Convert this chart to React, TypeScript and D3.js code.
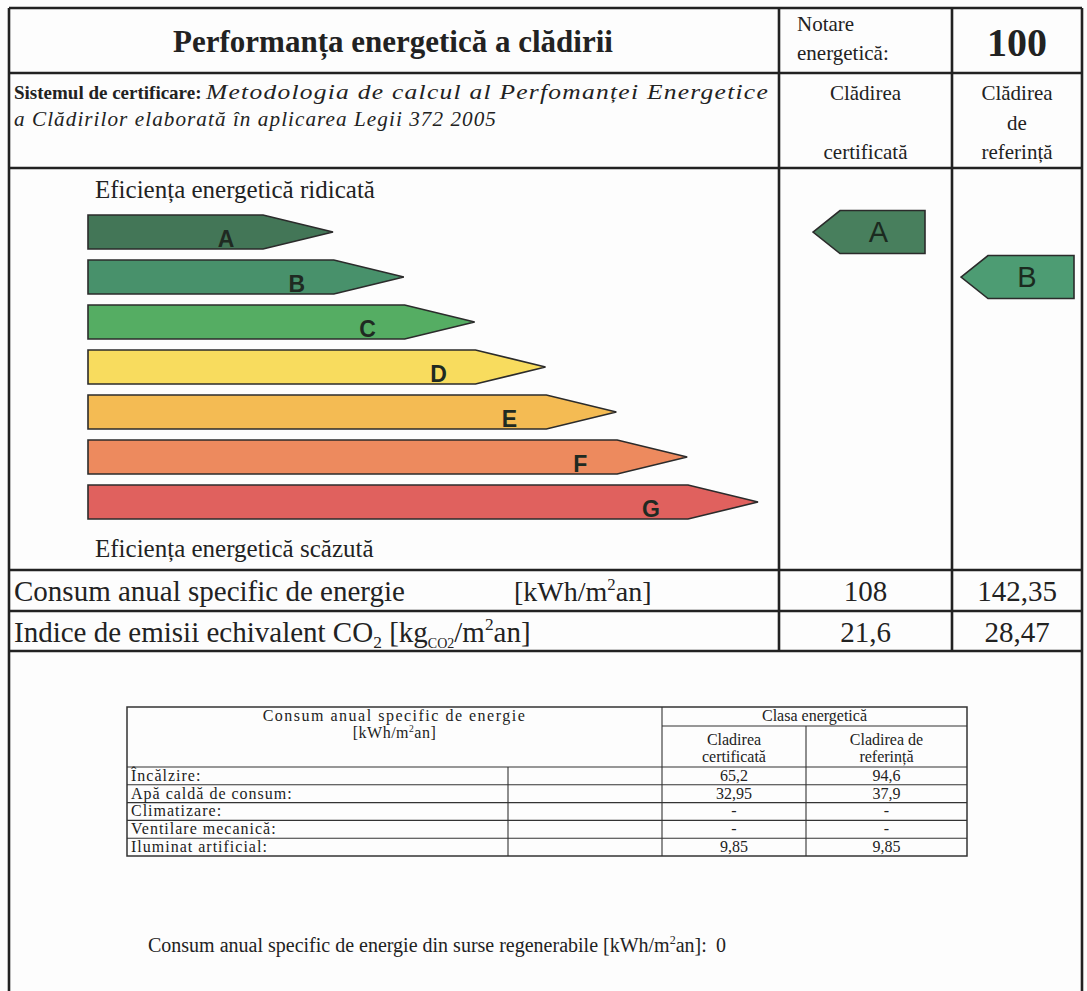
import React, { useEffect, useRef } from "react";
import * as d3 from "d3";

// energy classes and their scale colours
const classes = ["A", "B", "C", "D", "E", "F", "G"];
const classRank = [1, 2, 3, 4, 5, 6, 7];
const classColors = ["#437657", "#48916b", "#55ad63", "#f8dc5e", "#f4bb53", "#ed8a5e", "#e0615e"];

const certifiedClass = "A";
const referenceClass = "B";
const energyScore = "100";

// summary rows
const summaryCertified = ["108", "21,6"];
const summaryReference = ["142,35", "28,47"];

// breakdown table
const useLabels = [
  "Încălzire:",
  "Apă caldă de consum:",
  "Climatizare:",
  "Ventilare mecanică:",
  "Iluminat artificial:",
];
const useCertified = ["65,2", "32,95", "-", "-", "9,85"];
const useReference = ["94,6", "37,9", "-", "-", "9,85"];
const renewable = "0";

const SERIF = "'Liberation Serif', 'Times New Roman', serif";
const SANS = "'Liberation Sans', Arial, sans-serif";

type Part = { t: string; sup?: boolean; sub?: boolean; bold?: boolean; italic?: boolean; size?: number };

function rich(g: any, x: number, y: number, size: number, parts: Part[], anchor = "start", spacing = 0) {
  const text = g
    .append("text")
    .attr("x", x)
    .attr("y", y)
    .attr("font-family", SERIF)
    .attr("font-size", size)
    .attr("fill", "#222")
    .attr("letter-spacing", spacing)
    .attr("text-anchor", anchor);
  let shift = 0;
  parts.forEach((p) => {
    const s = text.append("tspan").text(p.t);
    let target = 0;
    if (p.sup) target = -size * 0.4;
    if (p.sub) target = size * 0.22;
    if (target !== shift) {
      s.attr("dy", target - shift);
      shift = target;
    }
    if (p.sup || p.sub) s.attr("font-size", p.size || size * 0.6);
    if (p.bold) s.attr("font-weight", "bold");
    if (p.italic) s.attr("font-style", "italic");
  });
  return text;
}

export default function App() {
  const ref = useRef<SVGSVGElement>(null);

  useEffect(() => {
    const width = 1087,
      height = 991;
    const svg = d3.select(ref.current).attr("width", width).attr("height", height);
    svg.selectAll("*").remove();

    svg.append("rect").attr("width", width).attr("height", height).attr("fill", "#fdfdfd");

    const left = 9,
      right = 1082,
      top = 8;
    const col1 = 779,
      col2 = 952;
    const rows = [73, 168, 570, 611, 651];
    const line = "#222";

    // ---- main frame
    const frame = svg.append("g").attr("stroke", line).attr("stroke-width", 2.6).attr("fill", "none");
    frame.append("line").attr("x1", left).attr("x2", right).attr("y1", top).attr("y2", top);
    frame.append("line").attr("x1", left).attr("x2", left).attr("y1", top).attr("y2", height + 5);
    frame.append("line").attr("x1", right).attr("x2", right).attr("y1", top).attr("y2", height + 5);
    rows.forEach((y) => {
      frame.append("line").attr("x1", left).attr("x2", right).attr("y1", y).attr("y2", y);
    });
    [col1, col2].forEach((x) => {
      frame.append("line").attr("x1", x).attr("x2", x).attr("y1", top).attr("y2", rows[4]);
    });

    // ---- header texts
    rich(svg, 393, 52, 31, [{ t: "Performanța energetică a clădirii", bold: true }], "middle");
    rich(svg, 797, 31, 21, [{ t: "Notare" }]);
    rich(svg, 797, 60, 21, [{ t: "energetică:" }]);
    rich(svg, (col2 + right) / 2, 56, 40, [{ t: energyScore, bold: true }], "middle");

    rich(svg, 14, 99, 19, [{ t: "Sistemul de certificare:", bold: true }]);
    rich(svg, 206, 99, 20, [{ t: "Metodologia de calcul al Perfomanței Energetice", italic: true }], "start", 1)
      .attr("textLength", 563)
      .attr("lengthAdjust", "spacingAndGlyphs");
    rich(svg, 14, 126, 20, [{ t: "a Clădirilor elaborată în aplicarea Legii 372 2005", italic: true }], "start", 1)
      .attr("textLength", 483)
      .attr("lengthAdjust", "spacingAndGlyphs");

    const c1 = (col1 + col2) / 2,
      c2 = (col2 + right) / 2;
    rich(svg, c1, 100, 21, [{ t: "Clădirea" }], "middle");
    rich(svg, c1, 159, 21, [{ t: "certificată" }], "middle");
    rich(svg, c2, 100, 21, [{ t: "Clădirea" }], "middle");
    rich(svg, c2, 130, 21, [{ t: "de" }], "middle");
    rich(svg, c2, 159, 21, [{ t: "referință" }], "middle");

    // ---- energy class scale
    rich(svg, 95, 198, 25, [{ t: "Eficiența energetică ridicată" }]);
    rich(svg, 95, 557, 25, [{ t: "Eficiența energetică scăzută" }]);

    const y = d3.scaleBand().domain(classes).range([215, 519]).paddingInner(0.244).paddingOuter(0);
    const xTip = d3
      .scaleLinear()
      .domain([d3.min(classRank)!, d3.max(classRank)!])
      .range([333, 758]);
    const x0 = 88,
      tipLen = 70;

    const bars = svg
      .append("g")
      .selectAll("g")
      .data(classes)
      .enter()
      .append("g");

    bars
      .append("path")
      .attr("d", (d, i) => {
        const t = y(d)!,
          b = t + y.bandwidth(),
          m = t + y.bandwidth() / 2,
          tip = xTip(classRank[i]);
        return `M${x0},${t}L${tip - tipLen},${t}L${tip},${m}L${tip - tipLen},${b}L${x0},${b}Z`;
      })
      .attr("fill", (d, i) => classColors[i])
      .attr("stroke", "#2b2b2b")
      .attr("stroke-width", 1.6);

    bars
      .append("text")
      .attr("x", (d, i) => xTip(classRank[i]) - tipLen - 37)
      .attr("y", (d) => y(d)! + y.bandwidth() - 2)
      .attr("text-anchor", "middle")
      .attr("font-family", SANS)
      .attr("font-weight", "bold")
      .attr("font-size", 23)
      .attr("fill", "#1f2a22")
      .text((d) => d);

    // ---- class indicators
    const indicators = [
      { cls: certifiedClass, x1: 813, x2: 925 },
      { cls: referenceClass, x1: 961, x2: 1074 },
    ];
    const indH = 43,
      indTip = 27;
    const ind = svg.append("g").selectAll("g").data(indicators).enter().append("g");
    ind
      .append("path")
      .attr("d", (d) => {
        const m = y(d.cls)! + y.bandwidth() / 2,
          t = m - indH / 2,
          b = m + indH / 2;
        return `M${d.x1},${m}L${d.x1 + indTip},${t}L${d.x2},${t}L${d.x2},${b}L${d.x1 + indTip},${b}Z`;
      })
      .attr("fill", (d) => d3.color(classColors[classes.indexOf(d.cls)])!.brighter(0.2).toString())
      .attr("stroke", "#2b2b2b")
      .attr("stroke-width", 1.6);
    ind
      .append("text")
      .attr("x", (d) => (d.x1 + indTip + d.x2) / 2 - 4)
      .attr("y", (d) => y(d.cls)! + y.bandwidth() / 2 + 10)
      .attr("text-anchor", "middle")
      .attr("font-family", SANS)
      .attr("font-size", 29)
      .attr("fill", "#1b2a1f")
      .text((d) => d.cls);

    // ---- summary rows
    rich(svg, 14, 601, 29, [{ t: "Consum anual specific de energie" }]);
    rich(svg, 514, 601, 28, [{ t: "[kWh/m" }, { t: "2", sup: true }, { t: "an]" }]);
    rich(svg, 14, 642, 29, [
      { t: "Indice de emisii echivalent CO" },
      { t: "2", sub: true },
      { t: " [kg" },
      { t: "CO2", sub: true, size: 14 },
      { t: "/m" },
      { t: "2", sup: true },
      { t: "an]" },
    ]);
    [601, 642].forEach((yy, i) => {
      rich(svg, c1, yy, 29, [{ t: summaryCertified[i] }], "middle");
      rich(svg, c2, yy, 29, [{ t: summaryReference[i] }], "middle");
    });

    // ---- breakdown table
    const tl = 127,
      tr = 967,
      tc1 = 508,
      tc2 = 662,
      tc3 = 806;
    const tTop = 707,
      tSub = 726,
      tHead = 767,
      tBot = 856;
    const rowY = d3.scaleBand().domain(useLabels).range([tHead, tBot]);
    const tab = svg.append("g").attr("stroke", "#333").attr("stroke-width", 1.1).attr("fill", "none");
    tab.append("rect").attr("x", tl).attr("y", tTop).attr("width", tr - tl).attr("height", tBot - tTop).attr("stroke-width", 1.5);
    tab.append("line").attr("x1", tc2).attr("x2", tr).attr("y1", tSub).attr("y2", tSub);
    tab.append("line").attr("x1", tc2).attr("x2", tc2).attr("y1", tTop).attr("y2", tBot);
    tab.append("line").attr("x1", tc3).attr("x2", tc3).attr("y1", tSub).attr("y2", tBot);
    tab.append("line").attr("x1", tc1).attr("x2", tc1).attr("y1", tHead).attr("y2", tBot);
    useLabels.forEach((l) => {
      tab.append("line").attr("x1", tl).attr("x2", tr).attr("y1", rowY(l)).attr("y2", rowY(l));
    });

    const fs = 16;
    rich(svg, (tl + tc2) / 2, 721, fs, [{ t: "Consum anual specific de energie" }], "middle", 1.5);
    rich(svg, (tl + tc2) / 2, 738, fs, [{ t: "[kWh/m" }, { t: "2", sup: true }, { t: "an]" }], "middle", 0.5);
    rich(svg, (tc2 + tr) / 2, 721, fs, [{ t: "Clasa energetică" }], "middle");
    rich(svg, (tc2 + tc3) / 2, 745, fs, [{ t: "Cladirea" }], "middle");
    rich(svg, (tc2 + tc3) / 2, 762, fs, [{ t: "certificată" }], "middle");
    rich(svg, (tc3 + tr) / 2, 745, fs, [{ t: "Cladirea de" }], "middle");
    rich(svg, (tc3 + tr) / 2, 762, fs, [{ t: "referință" }], "middle");
    useLabels.forEach((l, i) => {
      const by = rowY(l)! + rowY.bandwidth() - 4;
      rich(svg, tl + 4, by, fs, [{ t: l }], "start", 1);
      rich(svg, (tc2 + tc3) / 2, by, fs, [{ t: useCertified[i] }], "middle");
      rich(svg, (tc3 + tr) / 2, by, fs, [{ t: useReference[i] }], "middle");
    });

    rich(svg, 148, 952, 20, [
      { t: "Consum anual specific de energie din surse regenerabile [kWh/m" },
      { t: "2", sup: true },
      { t: "an]:" },
    ]);
    rich(svg, 716, 952, 20, [{ t: renewable }]);
  }, []);

  return <svg ref={ref} style={{ position: "absolute", left: 0, top: 0, display: "block" }}></svg>;
}
